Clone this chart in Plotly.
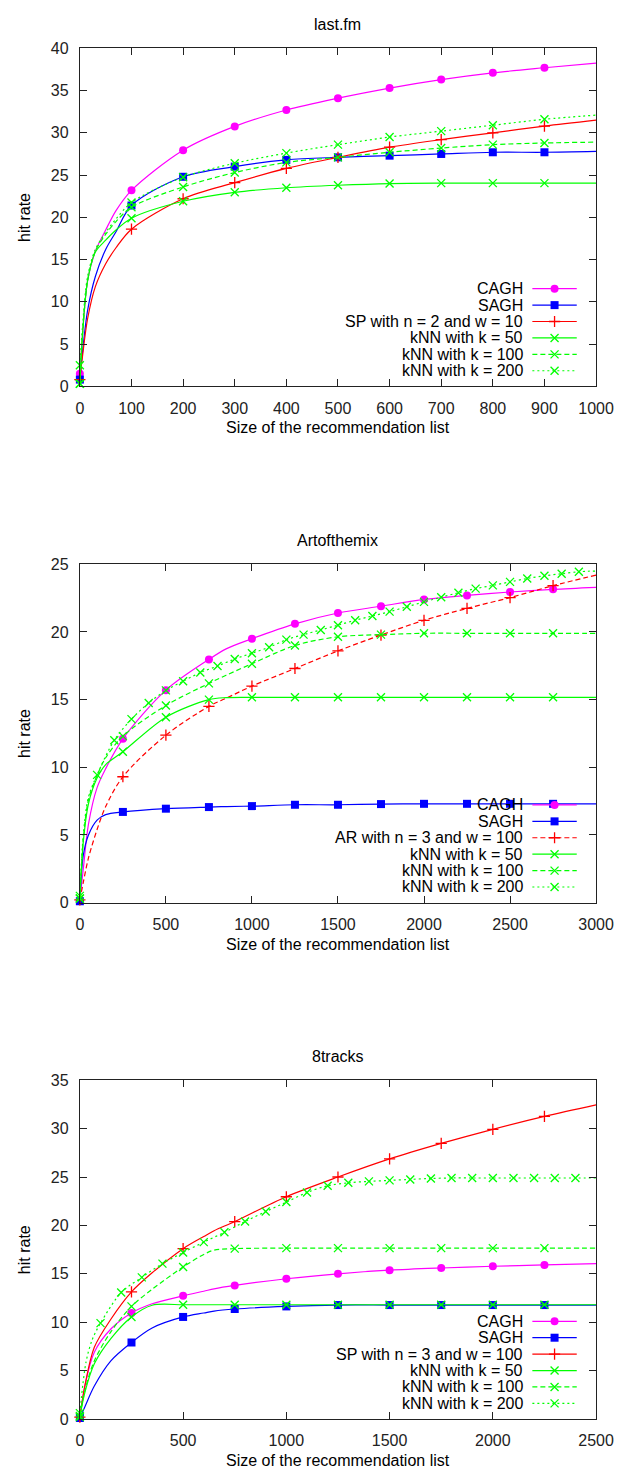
import plotly.graph_objects as go

# page is 644x1476; the browser body keeps an 8px margin, so the figure is 8px smaller on each axis
PAGE_W, PAGE_H, OFF = 644, 1476, 8
W, H = PAGE_W - OFF, PAGE_H - OFF
FONT = "Liberation Sans, Arial, Helvetica, sans-serif"
FS = 16

# ---------------- data: last.fm ----------------
LFM_X = [0, 5, 15, 30, 50, 70, 100, 200, 300, 400, 500, 600, 700, 800, 900, 1000]
LFM_MARK_X = [0, 100, 200, 300, 400, 500, 600, 700, 800, 900]
LFM_CAGH = [1.5, 6, 12.5, 16, 18.5, 20.8, 23.2, 27.95, 30.76, 32.7, 34.1, 35.3, 36.3, 37.1, 37.7, 38.25]
LFM_SAGH = [0.8, 4, 9, 13, 16.2, 18.3, 21.4, 24.8, 26.0, 26.8, 27.1, 27.3, 27.5, 27.7, 27.7, 27.8]
LFM_SP = [0.8, 3.5, 8, 11.8, 14.5, 16.4, 18.6, 22.2, 24.1, 25.8, 27.1, 28.3, 29.2, 30.0, 30.8, 31.5]
LFM_K50 = [0.3, 6, 12.5, 15.9, 17.3, 18.5, 19.9, 21.9, 22.96, 23.5, 23.8, 24.0, 24.05, 24.05, 24.05, 24.05]
LFM_K100 = [0.3, 6, 12.5, 16, 18, 19.5, 21.2, 23.6, 25.3, 26.5, 27.1, 27.7, 28.2, 28.6, 28.8, 28.9]
LFM_K200 = [2.5, 7, 13, 16.2, 18.2, 19.8, 21.75, 24.75, 26.4, 27.6, 28.6, 29.5, 30.2, 30.9, 31.6, 32.1]

# ---------------- data: Artofthemix ----------------
AOM_X = [0, 20, 50, 100, 150, 250, 500, 750, 850, 1000, 1250, 1500, 1750, 2000, 2250, 2500, 2750, 3000]
AOM_MARK_X = [0, 250, 500, 750, 1000, 1250, 1500, 1750, 2000, 2250, 2500, 2750]
AOM_CAGH = [0.2, 2.5, 5.8, 8.5, 9.9, 12.1, 15.7, 17.97, 18.75, 19.5, 20.6, 21.4, 21.9, 22.4, 22.7, 22.95, 23.15, 23.3]
AOM_SAGH = [0.1, 3.5, 5.0, 6.1, 6.5, 6.7, 6.94, 7.06, 7.1, 7.13, 7.23, 7.23, 7.28, 7.3, 7.3, 7.3, 7.3, 7.3]
AOM_AR = [0.2, 1.5, 3.3, 5.4, 7.1, 9.3, 12.37, 14.5, 15.1, 16.0, 17.3, 18.6, 19.77, 20.86, 21.74, 22.54, 23.42, 24.2]
AOM_K50 = [0.3, 4.5, 7.3, 9.2, 10.2, 11.15, 13.7, 15.0, 15.15, 15.17, 15.17, 15.17, 15.17, 15.17, 15.17, 15.17, 15.17, 15.17]
AOM_K100 = [0.3, 4.7, 7.6, 9.4, 10.7, 12.3, 14.56, 16.2, 16.8, 17.65, 19.0, 19.64, 19.8, 19.9, 19.9, 19.9, 19.9, 19.9]
AOM_K200_X = [0, 20, 50] + list(range(100, 3001, 100))
AOM_K200_MARK_X = list(range(0, 2901, 100))
AOM_K200 = [0.5, 5.0, 7.8, 9.44, 12.0, 13.56, 14.75, 15.68, 16.36, 17.0, 17.48, 18.0, 18.43,
            18.87, 19.43, 19.8, 20.15, 20.5, 20.86, 21.18, 21.5, 21.86, 22.22, 22.57, 22.9,
            23.2, 23.44, 23.7, 23.95, 24.15, 24.3, 24.45, 24.5]

# ---------------- data: 8tracks ----------------
ETR_X = [0, 25, 70, 150, 250, 350, 500, 600, 650, 750, 1000, 1250, 1500, 1750, 2000, 2250, 2500]
ETR_MARK_X = [0, 250, 500, 750, 1000, 1250, 1500, 1750, 2000, 2250]
ETR_CAGH = [0.2, 3.5, 6.9, 9.3, 10.95, 11.9, 12.72, 13.2, 13.45, 13.8, 14.49, 15.0, 15.37, 15.6, 15.78, 15.92, 16.05]
ETR_SAGH = [0.1, 1.3, 3.4, 6.0, 7.9, 9.4, 10.54, 10.95, 11.15, 11.36, 11.63, 11.77, 11.77, 11.77, 11.77, 11.77, 11.77]
ETR_SP = [0.2, 3.5, 7.4, 10.3, 13.13, 15.1, 17.6, 18.85, 19.45, 20.4, 22.96, 25.0, 26.87, 28.47, 29.93, 31.26, 32.45]
ETR_K50 = [0.2, 2.8, 5.7, 8.3, 10.54, 11.75, 11.8, 11.8, 11.8, 11.8, 11.8, 11.8, 11.8, 11.8, 11.8, 11.8, 11.8]
ETR_K100 = [0.3, 3.0, 6.0, 9.0, 11.63, 13.4, 15.7, 17.0, 17.45, 17.6, 17.65, 17.65, 17.65, 17.65, 17.65, 17.65, 17.65]
ETR_K200_X = [0, 30, 60] + list(range(100, 2501, 100))
ETR_K200_MARK_X = list(range(0, 2401, 100))
ETR_K200 = [0.6, 5.9, 8.2, 9.9, 13.06, 14.63, 16.05, 17.2, 18.27, 19.29, 20.4, 21.43, 22.41,
            23.4, 24.1, 24.4, 24.55, 24.65, 24.75, 24.85, 24.9, 24.9, 24.9, 24.9, 24.9, 24.9, 24.9, 24.9]

LABELS_1 = ["CAGH", "SAGH", "SP with n = 2 and w = 10", "kNN with k = 50", "kNN with k = 100", "kNN with k = 200"]
LABELS_2 = ["CAGH", "SAGH", "AR with n = 3 and w = 100", "kNN with k = 50", "kNN with k = 100", "kNN with k = 200"]
LABELS_3 = ["CAGH", "SAGH", "SP with n = 3 and w = 100", "kNN with k = 50", "kNN with k = 100", "kNN with k = 200"]

# ---------------- styles ----------------
MAGENTA, BLUE, RED, GREEN = "#ff00ff", "#0000ff", "#ff0000", "#00ff00"
DASH = "5px,3px"
DOT = "2px,3px"
STY_CAGH = dict(color=MAGENTA, dash="solid", symbol="circle", size=8)
STY_SAGH = dict(color=BLUE, dash="solid", symbol="square", size=8)
STY_SP = dict(color=RED, dash="solid", symbol="cross-thin", size=8)
STY_AR = dict(color=RED, dash=DASH, symbol="cross-thin", size=8)
STY_K50 = dict(color=GREEN, dash="solid", symbol="x-thin", size=8)
STY_K100 = dict(color=GREEN, dash=DASH, symbol="x-thin", size=8)
STY_K200 = dict(color=GREEN, dash=DOT, symbol="x-thin", size=8)

# page-pixel geometry of the reference
X_LEFT, X_RIGHT = 78.3, 613.0

panels = [
    dict(title="last.fm", top=40.7, bottom=382.7, xr=[0, 1000], dx=100, yr=[0, 40], labels=LABELS_1,
         series=[(LFM_X, LFM_CAGH, LFM_MARK_X, STY_CAGH), (LFM_X, LFM_SAGH, LFM_MARK_X, STY_SAGH),
                 (LFM_X, LFM_SP, LFM_MARK_X, STY_SP), (LFM_X, LFM_K50, LFM_MARK_X, STY_K50),
                 (LFM_X, LFM_K100, LFM_MARK_X, STY_K100), (LFM_X, LFM_K200, LFM_MARK_X, STY_K200)]),
    dict(title="Artofthemix", top=562.7, bottom=905.0, xr=[0, 3000], dx=500, yr=[0, 25], labels=LABELS_2,
         series=[(AOM_X, AOM_CAGH, AOM_MARK_X, STY_CAGH), (AOM_X, AOM_SAGH, AOM_MARK_X, STY_SAGH),
                 (AOM_X, AOM_AR, AOM_MARK_X, STY_AR), (AOM_X, AOM_K50, AOM_MARK_X, STY_K50),
                 (AOM_X, AOM_K100, AOM_MARK_X, STY_K100), (AOM_K200_X, AOM_K200, AOM_K200_MARK_X, STY_K200)]),
    dict(title="8tracks", top=1084.7, bottom=1427.4, xr=[0, 2500], dx=500, yr=[0, 35], labels=LABELS_3,
         series=[(ETR_X, ETR_CAGH, ETR_MARK_X, STY_CAGH), (ETR_X, ETR_SAGH, ETR_MARK_X, STY_SAGH),
                 (ETR_X, ETR_SP, ETR_MARK_X, STY_SP), (ETR_X, ETR_K50, ETR_MARK_X, STY_K50),
                 (ETR_X, ETR_K100, ETR_MARK_X, STY_K100), (ETR_K200_X, ETR_K200, ETR_K200_MARK_X, STY_K200)]),
]


def px(xp):
    """page x pixel -> paper fraction"""
    return (xp - OFF) / W


def py(yp):
    """page y pixel -> paper fraction"""
    return 1 - (yp - OFF) / H


def marker_dict(sty):
    sym = sty["symbol"]
    if sym.endswith("-thin"):
        return dict(symbol=sym, size=sty["size"], color=sty["color"], line=dict(color=sty["color"], width=1.3))
    return dict(symbol=sym, size=sty["size"], color=sty["color"], line=dict(width=0))


fig = go.Figure()
layout = dict(width=W, height=H, margin=dict(l=0, r=0, t=0, b=0, pad=0), paper_bgcolor="white",
              plot_bgcolor="rgba(0,0,0,0)", showlegend=False, font=dict(family=FONT, size=FS, color="#000"))
annotations = []

LEG_X_TEXT, LEG_X0, LEG_XM, LEG_X1 = 539, 547, 570, 593

for i, p in enumerate(panels):
    n = i + 1
    xa, ya = ("x" if n == 1 else f"x{n}"), ("y" if n == 1 else f"y{n}")
    xkey, ykey = ("xaxis" if n == 1 else f"xaxis{n}"), ("yaxis" if n == 1 else f"yaxis{n}")
    common = dict(ticks="inside", ticklen=7, tickwidth=1, tickcolor="#222", showline=True, mirror="ticks",
                  linecolor="#222", linewidth=1.2, showgrid=False, zeroline=False,
                  tickfont=dict(family=FONT, size=FS, color="#222"), ticklabelstandoff=7, fixedrange=True)
    layout[xkey] = dict(domain=[px(X_LEFT), px(X_RIGHT)], anchor=ya, range=p["xr"], tick0=0, dtick=p["dx"], **common)
    layout[ykey] = dict(domain=[py(p["bottom"]), py(p["top"])], anchor=xa, range=p["yr"], tick0=0, dtick=5, **common)

    for (xs, ys, mx, sty) in p["series"]:
        fig.add_trace(go.Scatter(x=xs, y=ys, mode="lines", xaxis=xa, yaxis=ya, hoverinfo="skip",
                                 line=dict(color=sty["color"], width=1.2, dash=sty["dash"], shape="spline", smoothing=0.9)))
        pts = [(x, y) for x, y in zip(xs, ys) if x in mx]
        fig.add_trace(go.Scatter(x=[q[0] for q in pts], y=[q[1] for q in pts], mode="markers", xaxis=xa, yaxis=ya,
                                 cliponaxis=False, marker=marker_dict(sty)))

    cx = (X_LEFT + X_RIGHT) / 2
    annotations.append(dict(text=p["title"], x=px(cx), y=py(p["top"] - 24.5), xref="paper", yref="paper",
                            showarrow=False, xanchor="center", yanchor="middle", font=dict(size=FS)))
    annotations.append(dict(text="Size of the recommendation list", x=px(cx), y=py(p["bottom"] + 42),
                            xref="paper", yref="paper", showarrow=False, xanchor="center", yanchor="middle",
                            font=dict(size=FS)))
    annotations.append(dict(text="hit rate", x=px(21), y=py((p["top"] + p["bottom"]) / 2), xref="paper",
                            yref="paper", showarrow=False, textangle=-90, xanchor="center", yanchor="middle",
                            font=dict(size=FS)))

    # key (gnuplot style: text on the left, sample on the right)
    for j, (lab, (_, _, _, sty)) in enumerate(zip(p["labels"], p["series"])):
        ry = p["bottom"] - 15.8 - 16.6 * (5 - j)
        annotations.append(dict(text=lab, x=px(LEG_X_TEXT), y=py(ry), xref="paper", yref="paper",
                                showarrow=False, xanchor="right", yanchor="middle", font=dict(size=FS)))
        fig.add_trace(go.Scatter(x=[LEG_X0, LEG_X1], y=[ry, ry], mode="lines", xaxis="x4", yaxis="y4",
                                 hoverinfo="skip", line=dict(color=sty["color"], width=1.2, dash=sty["dash"])))
        fig.add_trace(go.Scatter(x=[LEG_XM], y=[ry], mode="markers", xaxis="x4", yaxis="y4", hoverinfo="skip",
                                 cliponaxis=False, marker=marker_dict(sty)))

# overlay axis in page-pixel units for the key samples
layout["xaxis4"] = dict(domain=[0, 1], range=[OFF, PAGE_W], visible=False, anchor="y4", fixedrange=True)
layout["yaxis4"] = dict(domain=[0, 1], range=[PAGE_H, OFF], visible=False, anchor="x4", fixedrange=True)
layout["annotations"] = annotations
fig.update_layout(**layout)

fig.write_html("out.html")
